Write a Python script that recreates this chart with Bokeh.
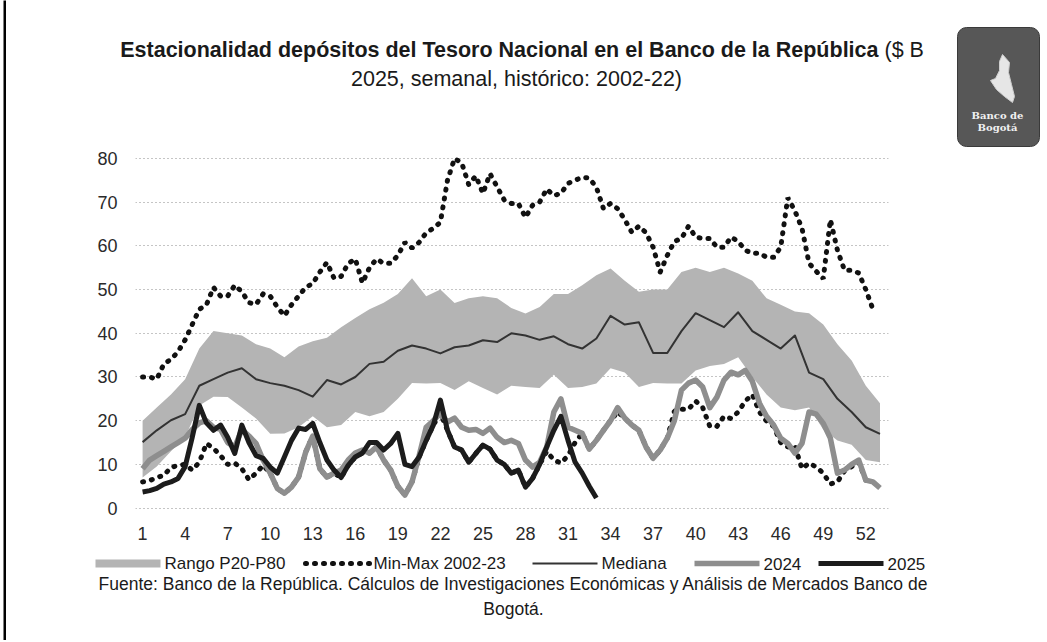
import numpy as np
from bokeh.plotting import figure
from bokeh.models import Range1d, FixedTicker, Quad, Plot
from bokeh.layouts import column, row
from bokeh.embed import file_html
from bokeh.resources import INLINE
from bokeh.core.properties import value

FONT = "Liberation Sans"
HAS_FRAME_ALIGN = "frame_align" in Plot.properties()

# ---------------- data ----------------
week_ticks = [1, 4, 7, 10, 13, 16, 19, 22, 25, 28, 31, 34, 37, 40, 43, 46, 49, 52]
y_ticks = [0, 10, 20, 30, 40, 50, 60, 70, 80]
weeks = list(range(1, 54))

p80 = [20, 23, 26, 29.5, 36.5, 40.5, 40, 39.5, 37.5, 36.5,
       34.5, 37, 38.2, 39, 41.4, 43.5, 45.5, 47, 49, 52.6,
       48.5, 50, 46.9, 48, 48.5, 48, 45.8, 44.5, 46, 49,
       49, 51, 53.3, 54.8, 52, 49.5, 50, 50, 54, 55,
       54, 55, 53.7, 52, 48, 46.5, 45, 44.6, 42, 37.5,
       33.8, 28, 24]
p20 = [7, 9.5, 13, 16.2, 23.5, 25.5, 25.4, 23, 20.5, 17,
       17.1, 18.5, 21, 18.5, 19, 22, 21, 22, 25, 28.6,
       28.5, 28.6, 27, 29, 27.5, 26, 28, 27.7, 27.5, 30.5,
       27.5, 27.7, 28.5, 32, 31, 27.7, 28.6, 28.5, 28.5, 31.5,
       32.5, 33, 34.5, 30, 26, 23, 22.4, 23, 18, 15.5,
       14.5, 11, 10.5]
mediana = [15.1, 17.8, 20.1, 21.5, 28, 29.5, 31, 32, 29.5, 28.6,
           28, 27, 25.5, 29.3, 28.3, 30, 33, 33.5, 36, 37.2,
           36.5, 35.4, 36.8, 37.2, 38.4, 38, 40, 39.5, 38.5, 39.3,
           37.5, 36.5, 38.8, 44, 42, 42.5, 35.5, 35.5, 40.5, 44.6,
           43, 41.4, 44.8, 40.5, 38.5, 36.5, 39.5, 31, 29.5, 25,
           22, 18.5, 17]

# half-week series (start at week 1, step 0.5)
max_2002_23 = [30, 30, 29.5, 33, 34, 35.8, 38.5, 42, 45.5, 46.5,
               50.5, 48.5, 48.5, 51, 49.5, 47, 46.6, 49, 48.5, 46,
               44, 46.5, 48.5, 50.5, 51.4, 54, 56.2, 52.6, 53, 56,
               57, 51.5, 55, 57, 56, 56, 57.8, 60.8, 59.5, 60.8,
               63, 64, 65.4, 75, 80, 79, 74, 76, 72, 76.5,
               73.5, 70.5, 69.7, 69.7, 66.5, 69.3, 70, 73, 71.5, 72,
               74.3, 75, 75.7, 75.5, 73.4, 68.5, 69.7, 68.5, 66, 63.1,
               64.5, 63, 59.7, 54, 57.8, 61, 61.7, 64.5, 62, 61.7,
               61.7, 59.7, 59.7, 62, 61, 59, 58.3, 58.3, 57.4, 57.4,
               59.7, 71, 68, 64, 56, 54.2, 52.5, 66, 59, 54.4,
               54.4, 53.8, 50, 45.5]
min_2002_23 = [6, 6.3, 7, 7.5, 9.3, 9.8, 10, 8.7, 10.5, 14.8,
               13.7, 12, 10, 10.3, 9, 6.5, 8, 9.8, 8, 4.5,
               3.4, 4.8, 7.1, 12.8, 16.5, 9, 7.1, 8, 7, 9.8,
               11.7, 12.6, 12.6, 14, 11, 8.7, 5, 3, 6, 11.7,
               15.5, 19, 21.7, 17.8, 14, 13.3, 10.5, 12.5, 14.4, 13.5,
               11, 10, 8, 8.7, 4.8, 6.8, 10, 13, 11, 10.3,
               12, 15, 17.1, 13.5, 15.5, 17.8, 20, 22, 20.6, 19,
               17.8, 14, 11.4, 13.3, 16, 22.2, 22.6, 22.6, 24.5, 23,
               18.7, 18.7, 21, 20.5, 22, 24.5, 26, 22, 19.9, 18.7,
               15, 14, 14.2, 9, 10.3, 9.4, 8, 5.5, 6, 8.5,
               9.5, 10.5, 6.4, 6]
serie_2024 = [9, 11, 12, 13, 14, 15, 16, 18, 19.5, 20,
              18.5, 18, 15, 14, 18, 16.5, 14.8, 11, 8, 4.5,
              3.4, 4.8, 7.1, 12.8, 16.5, 9, 7.1, 8, 8.7, 11,
              12.6, 13.3, 12.6, 14, 11, 8.7, 5, 3, 6, 12,
              18.5, 20, 21.7, 19.7, 20.6, 18.5, 17.8, 18, 17.1, 18.3,
              16.2, 15, 15.5, 14.8, 11, 9.4, 10.5, 14, 22, 25,
              18.5, 17.8, 17.1, 13.5, 15.5, 17.8, 20, 23, 20.6, 19,
              17.8, 14, 11.4, 13.3, 16, 20, 27, 28.6, 29.3, 27.7,
              23, 25.4, 29.3, 31.1, 30.5, 31.5, 29, 24, 21, 19,
              16, 14.8, 12.6, 14.8, 22, 21.5, 19.4, 16, 8, 8.7,
              10, 11, 6.4, 6, 4.6]
serie_2025 = [3.7, 4.0, 4.5, 5.5, 6, 6.8, 9.5, 16.2, 23.5, 19.5,
              17.8, 19, 16.2, 12.5, 19, 15, 12, 11.4, 9.4, 8,
              11.7, 15.5, 18.3, 18, 19.4, 15, 11, 8.7, 7, 9.8,
              11.7, 12.6, 15, 15, 13.3, 14.8, 17.1, 10, 9.5, 11.7,
              15.5, 19, 24.7, 17.8, 14, 13.3, 10.5, 12.5, 14.4, 13.5,
              11, 10, 8, 8.7, 4.8, 6.8, 10, 14, 17.8, 21,
              15.5, 10.5, 8, 5, 2.3]

legend_labels = ["Rango P20-P80", "Min-Max 2002-23", "Mediana", "2024", "2025"]
title_bold = "Estacionalidad depósitos del Tesoro Nacional en el Banco de la República"
title_rest = "($ B"
title_line2 = "2025, semanal, histórico: 2002-22)"
source_1 = "Fuente: Banco de la República. Cálculos de Investigaciones Económicas y Análisis de Mercados Banco de"
source_2 = "Bogotá."


def half_weeks(n):
    return [1 + 0.5 * i for i in range(n)]


C_BAND = "#b4b4b4"
C_MINMAX = "#111111"
C_MED = "#333333"
C_2024 = "#8e8e8e"
C_2025 = "#1c1c1c"
C_TEXT = "#1a1a1a"


def no_align(f):
    if HAS_FRAME_ALIGN:
        f.frame_align = False
    return f


def blank(width, height):
    f = figure(width=width, height=height, x_range=Range1d(0, width), y_range=Range1d(height, 0),
               output_backend="svg", toolbar_location=None, min_border=0,
               x_axis_type=None, y_axis_type=None)
    f.grid.visible = False
    f.outline_line_color = None
    f.background_fill_color = "white"
    f.border_fill_color = "white"
    return no_align(f)


W = 1034
HEAD_H = 147

# ---------------- header ----------------
h = blank(W, HEAD_H)
h.text(x=[872], y=[49], text=[title_bold], text_font=value(FONT), text_font_style="bold",
       text_font_size="21.5px", text_align="right", text_baseline="middle", text_color=C_TEXT)
h.text(x=[878], y=[49], text=[title_rest], text_font=value(FONT), text_font_size="21.5px",
       text_align="left", text_baseline="middle", text_color=C_TEXT)
h.text(x=[510], y=[78], text=[title_line2], text_font=value(FONT), text_font_size="21.5px",
       text_align="center", text_baseline="middle", text_color=C_TEXT)
# logo
logo_kw = dict(left=[951], right=[1033], top=[27], bottom=[HEAD_H - 1], fill_color="#575757",
               line_color="#3a3a3a", line_width=1)
if "border_radius" in Quad.properties():
    logo_kw["border_radius"] = 9
h.quad(**logo_kw)
h.patch(x=[996, 1003, 1002, 1005, 1008, 1006, 998, 990, 984, 989, 993, 993],
        y=[54, 62, 72, 84, 96, 102, 96, 89, 80, 78, 70, 61],
        fill_color="#e6e6e6", line_color="#cfcfcf")
h.text(x=[991, 991], y=[115, 127], text=["Banco de", "Bogotá"], text_font=value("DejaVu Serif"),
       text_font_size="10px", text_font_style="bold", text_align="center", text_baseline="middle",
       text_color="#f0f0f0")

# ---------------- main chart ----------------
TOP = 154 - HEAD_H
p = figure(width=W, height=394 + TOP, x_range=Range1d(0.5, 53.6), y_range=Range1d(-1, 80.9),
           output_backend="svg", toolbar_location=None,
           min_border_left=129, min_border_right=152, min_border_top=TOP, min_border_bottom=36)
no_align(p)
p.outline_line_color = None
p.background_fill_color = "white"
p.border_fill_color = "white"
p.xgrid.visible = False
p.ygrid.ticker = FixedTicker(ticks=y_ticks)
p.ygrid.grid_line_color = "#8a8a8a"
p.ygrid.grid_line_dash = "1 3"
p.ygrid.grid_line_width = 1
p.yaxis.ticker = FixedTicker(ticks=y_ticks)
p.xaxis.ticker = FixedTicker(ticks=week_ticks)
for ax in p.axis:
    ax.axis_line_color = None
    ax.major_tick_line_color = None
    ax.minor_tick_line_color = None
    ax.major_tick_out = 0
    ax.major_tick_in = 0
    ax.major_label_text_font = FONT
    ax.major_label_text_font_size = "18px"
    ax.major_label_text_color = "#2a2a2a"
p.yaxis.major_label_standoff = 18
p.xaxis.major_label_standoff = 14

p.varea(x=weeks, y1=p20, y2=p80, fill_color=C_BAND)
p.line(half_weeks(len(max_2002_23)), max_2002_23, line_color=C_MINMAX, line_width=5,
       line_dash="1 8", line_cap="round")
p.line(half_weeks(len(min_2002_23)), min_2002_23, line_color=C_MINMAX, line_width=5,
       line_dash="1 8", line_cap="round")
p.line(weeks, mediana, line_color=C_MED, line_width=2, line_join="round")
p.line(half_weeks(len(serie_2024)), serie_2024, line_color=C_2024, line_width=5.5, line_join="round")
p.line(half_weeks(len(serie_2025)), serie_2025, line_color=C_2025, line_width=5, line_join="round")

# ---------------- legend + source ----------------
b = blank(W, 92)
ly = 15
b.quad(left=[89], right=[154], top=[ly - 4], bottom=[ly + 4], fill_color=C_BAND, line_color=None)
b.line(x=[299, 363], y=[ly, ly], line_color=C_MINMAX, line_width=5, line_dash="1 8", line_cap="round")
b.line(x=[526, 591], y=[ly, ly], line_color=C_MED, line_width=2)
b.line(x=[688, 753], y=[ly, ly], line_color=C_2024, line_width=5.5)
b.line(x=[812, 877], y=[ly, ly], line_color=C_2025, line_width=5)
b.text(x=[158, 367, 595, 757, 881], y=[ly] * 5, text=legend_labels, text_font=value(FONT),
       text_font_size="17px", text_align="left", text_baseline="middle", text_color=C_TEXT)
b.text(x=[507, 507], y=[35, 60], text=[source_1, source_2], text_font=value(FONT),
       text_font_size="17.5px", text_align="center", text_baseline="middle", text_color=C_TEXT)


# ---------------- left rule ----------------
def vbar_fig(width, color):
    f = figure(width=width, height=640, output_backend="svg", toolbar_location=None, min_border=0,
               x_axis_type=None, y_axis_type=None)
    f.grid.visible = False
    f.outline_line_color = None
    f.background_fill_color = color
    f.border_fill_color = color
    return no_align(f)


layout = row(vbar_fig(3, "white"), vbar_fig(3, "black"), column(h, p, b))

with open("out.html", "w") as fh:
    fh.write(file_html(layout, INLINE))
